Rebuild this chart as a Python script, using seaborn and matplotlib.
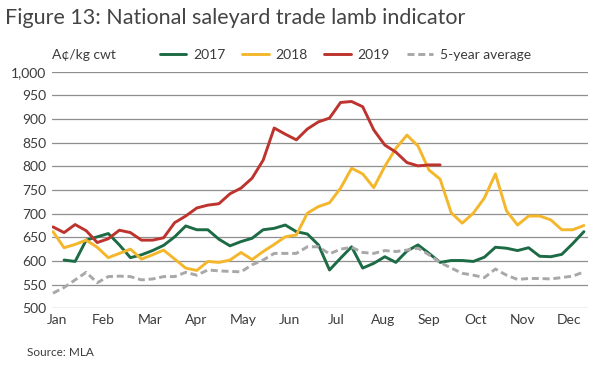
import numpy as np
import pandas as pd
import matplotlib.pyplot as plt
import seaborn as sns

# -----------------------------
# data (weekly)
# -----------------------------
weeks = list(range(49))
months = ['Jan', 'Feb', 'Mar', 'Apr', 'May', 'Jun', 'Jul', 'Aug', 'Sep', 'Oct', 'Nov', 'Dec']

y2017 = [np.nan, 602, 599, 644, 651, 658, 634, 607, 613, 622, 633, 651, 674, 666, 666, 646,
         632, 641, 648, 666, 669, 676, 662, 657, 634, 581, 606, 630, 585, 595, 609, 597,
         621, 634, 616, 597, 601, 601, 599, 608, 629, 627, 622, 628, 610, 609, 614, 637, 662]
y2018 = [662, 628, 635, 644, 629, 607, 616, 625, 604, 613, 623, 604, 585, 580, 599, 597,
         602, 618, 603, 620, 635, 651, 655, 701, 715, 723, 754, 796, 784, 755, 800, 838,
         866, 843, 792, 773, 702, 680, 701, 733, 784, 706, 676, 695, 695, 687, 666, 666, 675]
y2019 = [672, 660, 677, 664, 639, 647, 665, 660, 644, 644, 649, 681, 695, 712, 718, 721,
         742, 754, 775, 813, 881, 868, 856, 879, 894, 902, 935, 937, 926, 877, 845, 830,
         808, 801, 803, 803] + [np.nan] * 13
avg5 = [532, 544, 560, 576, 554, 567, 568, 567, 560, 562, 567, 567, 576, 570, 581, 579,
        578, 577, 592, 602, 616, 616, 616, 630, 630, 615, 625, 629, 618, 616, 622, 620,
        623, 627, 613, 597, 585, 574, 570, 565, 583, 570, 561, 563, 563, 562, 565, 568, 577]

series = ['2017', '2018', '2019', '5-year average']
colors = {'2017': '#1d6b45', '2018': '#f4b72c', '2019': '#bd332e', '5-year average': '#a8a8a8'}

df = pd.DataFrame({'week': weeks, '2017': y2017, '2018': y2018, '2019': y2019,
                   '5-year average': avg5})
df = df.melt(id_vars='week', var_name='series', value_name='price')

sns.set_theme(style='white')
plt.rcParams['font.family'] = ['Lato', 'DejaVu Sans']
text_col = '#3c3c3c'

fig = plt.figure(figsize=(6.12, 3.69), dpi=100)
ax = fig.add_axes([52 / 612, 1 - 308.3 / 369, 536 / 612, 236.6 / 369])

for s in series:
    d = df[df['series'] == s]
    if s == '5-year average':
        sns.lineplot(data=d, x='week', y='price', ax=ax, color=colors[s], lw=2.1,
                     label=s, linestyle=(0, (2.4, 1.3)))
    else:
        sns.lineplot(data=d, x='week', y='price', ax=ax, color=colors[s], lw=2.1, label=s)

ax.set_ylim(500, 1000)
ax.set_xlim(-0.09, 48.37)
ax.set_yticks(np.arange(500, 1001, 50))
ax.set_yticklabels([f'{v:,}' for v in range(500, 1001, 50)])
ax.set_xticks([0.33 + i * 4.21 for i in range(12)])
ax.set_xticklabels(months)
ax.tick_params(length=0, labelsize=10, colors=text_col, pad=4)
ax.set_xlabel('')
ax.set_ylabel('')
ax.grid(axis='y', color='#8f8f8f', lw=0.9)
ax.grid(axis='x', visible=False)
for sp in ax.spines.values():
    sp.set_visible(False)

handles, labels = ax.get_legend_handles_labels()
ax.legend(handles, labels, loc='center left', bbox_to_anchor=(153 / 612, 1 - 55 / 369),
          bbox_transform=fig.transFigure, ncol=4, frameon=False, fontsize=10,
          handlelength=1.9, handletextpad=0.5, columnspacing=1.2, borderpad=0,
          labelcolor=text_col)

fig.text(52 / 612, 1 - 55 / 369, 'A¢/kg cwt', fontsize=10, color=text_col, va='center')
fig.text(5 / 612, 1 - 18 / 369, 'Figure 13: National saleyard trade lamb indicator',
         fontsize=15.5, color='#444444', va='center')
fig.text(27 / 612, 1 - 352 / 369, 'Source: MLA', fontsize=8.5, color=text_col, va='center')

plt.savefig('out.png', dpi=100)
plt.close()
